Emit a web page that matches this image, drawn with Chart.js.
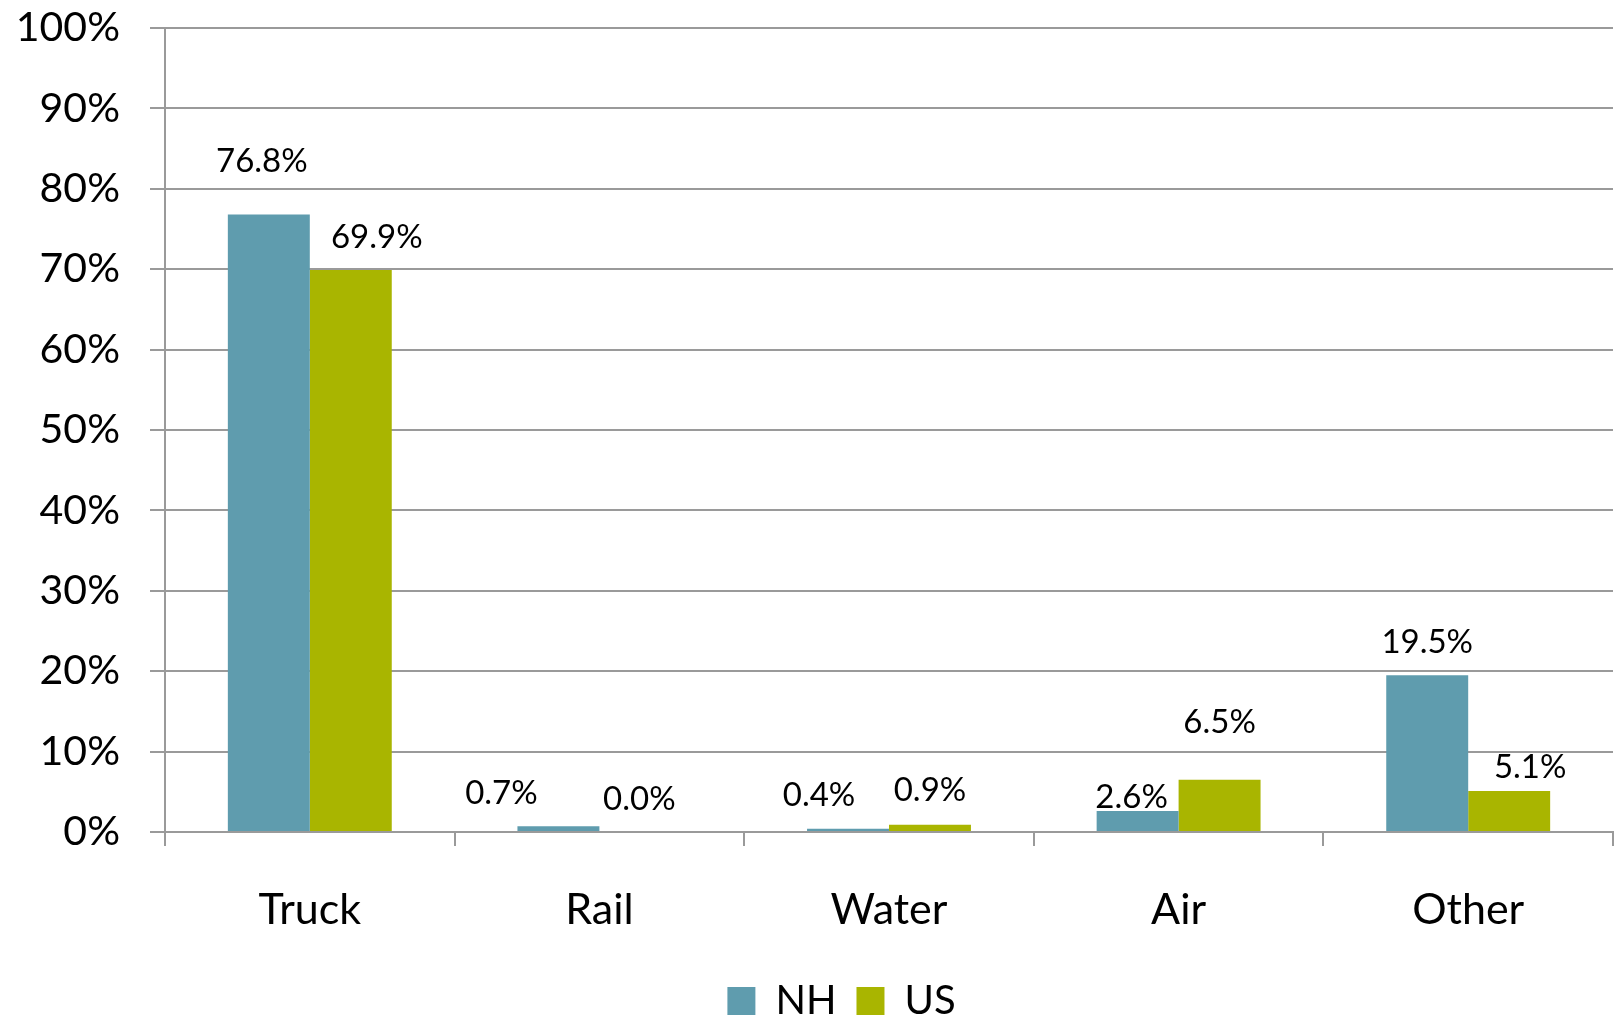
<!DOCTYPE html>
<html>
<head>
<meta charset="utf-8">
<script src="https://cdn.jsdelivr.net/npm/chart.js@4"></script>
<style>
  html, body { margin: 0; padding: 0; background: #ffffff; }
  #wrap { width: 1616px; height: 1018px; }
</style>
</head>
<body>
<div id="wrap"><canvas id="c" width="1616" height="1018"></canvas></div>
<script>
// ---- data ----
const categories = ['Truck', 'Rail', 'Water', 'Air', 'Other'];
const seriesNames = ['NH', 'US'];
const nhValues = [76.8, 0.7, 0.4, 2.6, 19.5];
const usValues = [69.9, 0.0, 0.9, 6.5, 5.1];
const yMin = 0, yMax = 100, yStep = 10;

// ---- label placement (offsets from bar top-centre, px) ----
const nhLabelDx = [-7, -57, -29, -6, 0];
const nhLabelDy = [-53, -33, -33, -14, -33];
const usLabelDx = [26, -1, 0, 0, 21];
const usLabelDy = [-33, -33, -34, -57, -24];

const nhColor = '#5f9cae';
const usColor = '#a9b500';
const gridColor = '#9a9a9a';
const fontFamily = 'Lato, "Open Sans", sans-serif';
const legendShiftX = 35;

const labelPlugin = {
  id: 'barLabels',
  afterDatasetsDraw(chart) {
    const ctx = chart.ctx;
    ctx.save();
    ctx.font = '33px ' + fontFamily;
    ctx.fillStyle = '#000000';
    ctx.textAlign = 'center';
    ctx.textBaseline = 'middle';
    const sets = [[nhValues, nhLabelDx, nhLabelDy], [usValues, usLabelDx, usLabelDy]];
    sets.forEach(([vals, dx, dy], di) => {
      chart.getDatasetMeta(di).data.forEach((bar, i) => {
        ctx.fillText(vals[i].toFixed(1) + '%', bar.x + dx[i], bar.y + dy[i]);
      });
    });
    ctx.restore();
  }
};

const legendShiftPlugin = {
  id: 'legendShift',
  afterLayout(chart) {
    if (chart.legend) {
      chart.legend.left += legendShiftX;
      chart.legend.right += legendShiftX;
    }
  }
};

new Chart(document.getElementById('c'), {
  type: 'bar',
  data: {
    labels: categories,
    datasets: [
      { label: seriesNames[0], data: nhValues, backgroundColor: nhColor, borderWidth: 0 },
      { label: seriesNames[1], data: usValues, backgroundColor: usColor, borderWidth: 0 }
    ]
  },
  options: {
    responsive: false,
    animation: false,
    devicePixelRatio: 1,
    barPercentage: 1.0,
    categoryPercentage: 0.566,
    layout: { padding: { top: 2, right: 3, left: 0, bottom: -13 } },
    plugins: {
      legend: {
        position: 'bottom',
        labels: {
          boxWidth: 28,
          boxHeight: 28,
          padding: 20,
          color: '#000000',
          font: { family: fontFamily, size: 40 }
        }
      },
      tooltip: { enabled: false }
    },
    scales: {
      x: {
        afterFit(scale) { scale.height = 129; },
        grid: {
          display: true,
          drawOnChartArea: false,
          drawTicks: true,
          tickLength: 14,
          offset: true,
          color: gridColor,
          lineWidth: 2
        },
        border: { display: true, color: gridColor, width: 2 },
        ticks: {
          color: '#000000',
          padding: 38,
          font: { family: fontFamily, size: 43 }
        }
      },
      y: {
        min: yMin,
        max: yMax,
        afterFit(scale) {
          scale.width = 165;
          scale.paddingTop = 28;
          scale.paddingBottom = 0;
        },
        grid: {
          color: gridColor,
          lineWidth: 2,
          drawTicks: true,
          tickLength: 15
        },
        border: { display: true, color: gridColor, width: 2 },
        ticks: {
          stepSize: yStep,
          color: '#000000',
          padding: 30,
          font: { family: fontFamily, size: 41 },
          callback: (v) => v + '%'
        }
      }
    }
  },
  plugins: [labelPlugin, legendShiftPlugin]
});
</script>
</body>
</html>
